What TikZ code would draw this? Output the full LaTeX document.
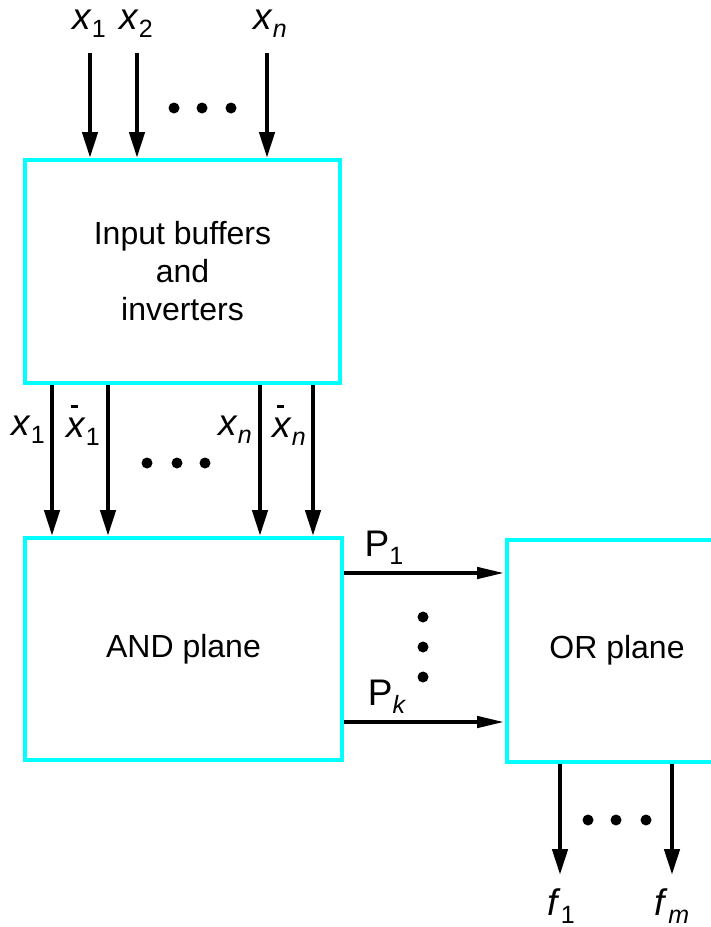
\documentclass[tikz,border=0pt]{standalone}
\usepackage{fontspec}
\setmainfont{Liberation Sans}
\usetikzlibrary{arrows.meta,positioning}
\definecolor{boxcyan}{RGB}{0,255,255}
% variable with lowered index, as in the figure
\newcommand{\vsub}[2]{#1\raisebox{-8pt}{\fontsize{25}{25}\selectfont #2}}
\newcommand{\vbar}[2]{\vsub{\rlap{\hspace{5pt}\raisebox{30pt}{\rule{7pt}{3pt}}}\textit{x}}{#2}}

\begin{document}
\begin{tikzpicture}[
  x=1pt, y=-1pt,
  font=\fontsize{32}{38}\selectfont,
  blk/.style={draw=boxcyan, line width=4pt, minimum width=#1, minimum height=222pt,
              align=center, inner sep=0pt},
  ar/.style={-{Triangle[length=26pt, width=15pt]}, line width=4.5pt},
  arh/.style={-{Triangle[length=28pt, width=11pt]}, line width=4.5pt},
  lbl/.style={inner sep=0pt, font=\fontsize{37}{37}\selectfont},
  dot/.style={circle, fill, inner sep=0pt, minimum size=11pt}
]
\useasboundingbox (0,0) rectangle (710,927);

\node[blk=315pt, minimum height=223pt] (inbuf) at (182.5,271.5) {Input buffers\\and\\inverters};
\node[blk=317pt] (andpl) at (183.5,649) {AND plane};
\node[blk=220pt] (orpl)  at (617,650.5) {OR plane};

% inputs
\coordinate (t1) at (90,53);
\coordinate (t2) at (137,53);
\coordinate (tn) at (267,53);
\node[lbl] (lx1) at (89,24)  {\vsub{\textit{x}}{1}};
\node[lbl] (lx2) at (136,24) {\vsub{\textit{x}}{2}};
\node[lbl] (lxn) at (270,24) {\vsub{\textit{x}}{\textit{n}}};
\draw[ar] (t1) -- (t1 |- inbuf.north);
\draw[ar] (t2) -- (t2 |- inbuf.north);
\draw[ar] (tn) -- (tn |- inbuf.north);
\foreach \x in {174,202,231} \node[dot] at (\x,108) {};

% true and complemented literals
\foreach \x in {52,108,260,313}
  \draw[ar] (\x,0 |- inbuf.south) -- (\x,0 |- andpl.north);
\node[lbl] (mx1)  at (28,430)  {\vsub{\textit{x}}{1}};
\node[lbl] (mxb1) at (83,425)  {\vbar{x}{1}};
\node[lbl] (mxn)  at (235,430) {\vsub{\textit{x}}{\textit{n}}};
\node[lbl] (mxbn) at (289,425) {\vbar{x}{\textit{n}}};
\foreach \x in {147,177,205} \node[dot] at (\x,463) {};

% product terms
\coordinate (p1) at (0,573);
\coordinate (pk) at (0,722);
\draw[arh] (andpl.east |- p1) -- (orpl.west |- p1);
\draw[arh] (andpl.east |- pk) -- (orpl.west |- pk);
\node[lbl] (lp1) at (384,548) {\vsub{P}{1}};
\node[lbl] (lpk) at (387,697) {\vsub{P}{\textit{k}}};
\foreach \y in {617,647,677} \node[dot] at (423,\y) {};

% outputs
\coordinate (o1) at (560,875);
\coordinate (om) at (672,875);
\draw[ar] (o1 |- orpl.south) -- (o1);
\draw[ar] (om |- orpl.south) -- (om);
\node[lbl] (lf1) at (561,906) {\vsub{\textit{f}}{1}};
\node[lbl] (lfm) at (672,906) {\vsub{\textit{f}}{\textit{m}}};
\foreach \x in {588,616,646} \node[dot] at (\x,820) {};
\end{tikzpicture}
\end{document}
